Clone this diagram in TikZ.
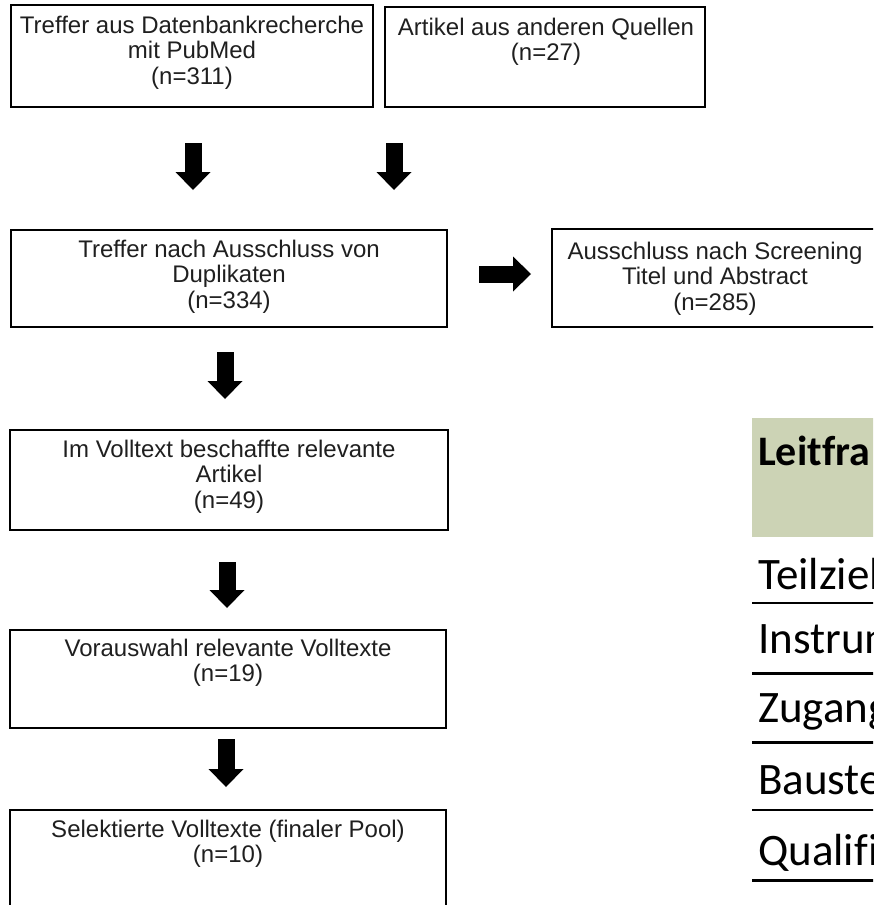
\documentclass[tikz,border=0pt]{standalone}
\usepackage{fontspec}
\setmainfont{Liberation Sans}
\newfontfamily\calibri{Carlito}[Ligatures={NoCommon}]
\usetikzlibrary{arrows.meta}
\definecolor{hdrgreen}{RGB}{204,211,181}
\begin{document}
\begin{tikzpicture}[x=1pt,y=-1pt,
  box/.style={draw=black, line width=2.9pt, rectangle, inner sep=0pt},
  txt/.style={inner sep=0pt, anchor=base, text=black!88, font=\fontsize{24}{25.5}\selectfont},
  blockarrow/.style={line width=17pt, -{Triangle[width=35pt,length=18pt,line width=0pt]}},
  rowtxt/.style={inner sep=0pt, anchor=base west, font=\calibri\fontsize{45}{48}\selectfont},
  thinrule/.style={line width=1.5pt},
  thickrule/.style={line width=3pt}]
\useasboundingbox (0,0) rectangle (873,905);
\clip (0,0) rectangle (873,905);

% flow boxes
\node[box, minimum width=362, minimum height=102] (b1) at (192,56) {};
\node[box, minimum width=320, minimum height=100] (b2) at (545,57) {};
\node[box, minimum width=436, minimum height=97] (b3) at (229,278.5) {};
\node[box, minimum width=326, minimum height=98] (b4) at (715,278) {};
\node[box, minimum width=438, minimum height=100] (b5) at (229,480) {};
\node[box, minimum width=436, minimum height=98] (b6) at (228,679) {};
\node[box, minimum width=436, minimum height=102] (b7) at (228,861) {};

% texts
\node[txt] (t1) at (192,33) {\begin{tabular}[t]{@{}c@{}}Treffer aus Datenbankrecherche\\mit PubMed\\(n=311)\end{tabular}};
\node[txt] (t2) at (546,35) {\begin{tabular}[t]{@{}c@{}}Artikel aus anderen Quellen\\(n=27)\end{tabular}};
\node[txt] (t3) at (229,257) {\begin{tabular}[t]{@{}c@{}}Treffer nach Ausschluss von\\Duplikaten\\(n=334)\end{tabular}};
\node[txt] (t4) at (715,259) {\begin{tabular}[t]{@{}c@{}}Ausschluss nach Screening\\Titel und Abstract\\(n=285)\end{tabular}};
\node[txt] (t5) at (229,457) {\begin{tabular}[t]{@{}c@{}}Im Volltext beschaffte relevante\\Artikel\\(n=49)\end{tabular}};
\node[txt] (t6) at (228,656) {\begin{tabular}[t]{@{}c@{}}Vorauswahl relevante Volltexte\\(n=19)\end{tabular}};
\node[txt] (t7) at (228,837) {\begin{tabular}[t]{@{}c@{}}Selektierte Volltexte (finaler Pool)\\(n=10)\end{tabular}};

% block arrows
\coordinate (a1s) at (193,143); \coordinate (a1e) at (193,190);
\coordinate (a2s) at (394,143); \coordinate (a2e) at (394,190);
\coordinate (a3s) at (479,274); \coordinate (a3e) at (531,274);
\coordinate (a4s) at (225,352); \coordinate (a4e) at (225,399);
\coordinate (a5s) at (227,562); \coordinate (a5e) at (227,608);
\coordinate (a6s) at (226,739); \coordinate (a6e) at (226,787);
\draw[blockarrow] (a1s) -- (a1e);
\draw[blockarrow] (a2s) -- (a2e);
\draw[blockarrow] (a3s) -- (a3e);
\draw[blockarrow] (a4s) -- (a4e);
\draw[blockarrow] (a5s) -- (a5e);
\draw[blockarrow] (a6s) -- (a6e);

% table fragment
\node[fill=hdrgreen, inner sep=0pt, minimum width=130, minimum height=119, anchor=north west] (hdr) at (752,418) {};
\node[inner sep=0pt, anchor=base west, font=\calibri\bfseries\fontsize{42}{44}\selectfont] (htxt) at (758,465) {Leitfra};
\node[rowtxt] (r1) at (758,589) {Teilziel};
\node[rowtxt] (r2) at (758,653) {Instrum};
\node[rowtxt] (r3) at (758,722) {Zugang};
\node[rowtxt] (r4) at (758,794) {Bauste};
\node[rowtxt] (r5) at (758,865) {Qualifi};
\draw[thinrule] (752,603) -- (880,603);
\draw[thickrule] (752,673) -- (880,673);
\draw[thickrule] (752,742) -- (880,742);
\draw[thinrule] (752,810) -- (880,810);
\draw[thickrule] (752,880) -- (880,880);
\end{tikzpicture}
\end{document}
